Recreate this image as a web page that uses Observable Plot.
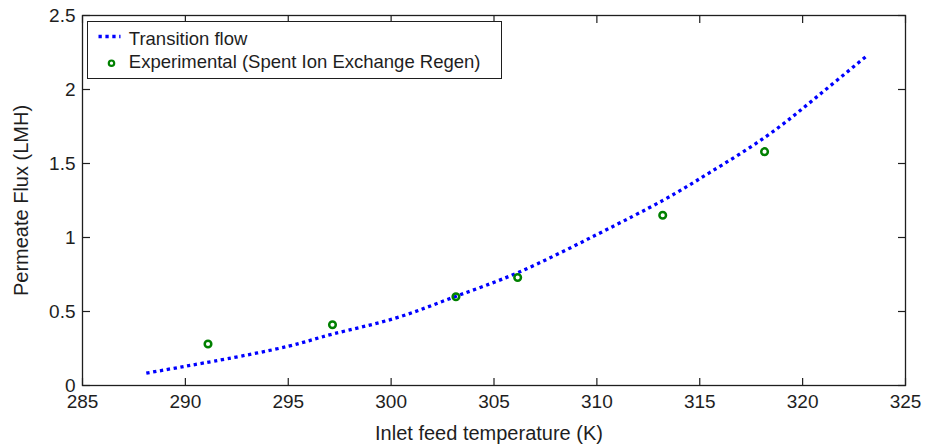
<!DOCTYPE html>
<html><head><meta charset="utf-8">
<script src="https://cdn.jsdelivr.net/npm/d3@7"></script>
<script src="https://cdn.jsdelivr.net/npm/@observablehq/plot@0.6"></script>
<style>body{margin:0;background:#fff}</style>
</head><body><div id="chart"></div>
<script>
// Model curve (Transition flow)
const curveT = [288.1, 290.0, 292.0, 295.0, 297.2, 300.2, 303.1, 306.2, 310.0, 313.2, 315.5, 318.2, 320.6, 323.1];
const curveF = [0.083, 0.130, 0.180, 0.265, 0.349, 0.455, 0.600, 0.765, 1.020, 1.250, 1.440, 1.680, 1.940, 2.225];
// Experimental points
const expT = [291.1, 297.15, 303.15, 306.15, 313.2, 318.15];
const expF = [0.28, 0.41, 0.60, 0.73, 1.15, 1.58];
// Ticks and labels
const xTicks = [285, 290, 295, 300, 305, 310, 315, 320, 325];
const yTicks = [0, 0.5, 1, 1.5, 2, 2.5];
const seriesNames = ["Transition flow", "Experimental (Spent Ion Exchange Regen)"];
const xLabel = "Inlet feed temperature (K)";
const yLabel = "Permeate Flux (LMH)";

const curve = curveT.map((t, i) => ({t, f: curveF[i]}));
const pts = expT.map((t, i) => ({t, f: expF[i]}));
const seg = {draw(ctx, l) { ctx.moveTo(0, 0); ctx.lineTo(0, -l); }};
const ink = "#1e1e1e";
const tickOpts = {length: 7.5, anchor: "start", shape: seg, stroke: ink, strokeWidth: 1.2, strokeLinecap: "butt"};

const chart = Plot.plot({
  width: 935, height: 444,
  marginLeft: 82, marginRight: 30, marginTop: 15, marginBottom: 59,
  x: {domain: [285, 325]},
  y: {domain: [0, 2.5]},
  style: {fontFamily: "'Liberation Sans', Arial, sans-serif", fontSize: "19px", color: ink, background: "#fff"},
  marks: [
    Plot.axisX(xTicks, {tickSize: 0, tickPadding: 8.5, label: null}),
    Plot.axisY(yTicks, {tickSize: 0, tickPadding: 7, label: null, tickFormat: d => String(d)}),
    Plot.line(curve, {x: "t", y: "f", stroke: "#0000ff", strokeWidth: 3.3, strokeDasharray: "3.3,3.6",
      strokeLinecap: "butt", strokeLinejoin: "miter", curve: "natural"}),
    Plot.dot(pts, {x: "t", y: "f", r: 3.3, stroke: "#008000", strokeWidth: 2.5, fill: "none"}),
    Plot.frame({stroke: ink, strokeWidth: 1.3}),
    Plot.vector(xTicks, {x: d => d, frameAnchor: "bottom", rotate: 0, ...tickOpts}),
    Plot.vector(xTicks, {x: d => d, frameAnchor: "top", rotate: 180, ...tickOpts}),
    Plot.vector(yTicks, {y: d => d, frameAnchor: "left", rotate: 90, ...tickOpts}),
    Plot.vector(yTicks, {y: d => d, frameAnchor: "right", rotate: -90, ...tickOpts}),
    // legend
    Plot.frame({insetLeft: 5, insetTop: 6, insetRight: 404, insetBottom: 307, fill: "white", stroke: ink, strokeWidth: 1}),
    Plot.vector([0], {frameAnchor: "top-left", dx: 16, dy: 21, rotate: 90, length: 22, anchor: "start", shape: seg,
      stroke: "#0000ff", strokeWidth: 3.3, strokeDasharray: "3.3,3.6", strokeLinecap: "butt"}),
    Plot.dot([0], {frameAnchor: "top-left", dx: 29, dy: 47.7, r: 2.7, stroke: "#008000", strokeWidth: 2.2, fill: "none"}),
    Plot.text([seriesNames[0]], {frameAnchor: "top-left", text: d => d, dx: 46.3, dy: 23.4, textAnchor: "start", lineAnchor: "middle", fontSize: 18.5, fill: ink}),
    Plot.text([seriesNames[1]], {frameAnchor: "top-left", text: d => d, dx: 46.3, dy: 46.4, textAnchor: "start", lineAnchor: "middle", fontSize: 18.5, fill: ink}),
    // axis titles
    Plot.text([xLabel], {frameAnchor: "bottom", text: d => d, dx: -5, dy: 47.6, textAnchor: "middle", lineAnchor: "middle", fontSize: 20, fill: ink}),
    Plot.text([yLabel], {frameAnchor: "left", text: d => d, dx: -61, rotate: -90, textAnchor: "middle", lineAnchor: "middle", fontSize: 20, fill: ink})
  ]
});
document.getElementById("chart").appendChild(chart);
</script>
</body></html>
